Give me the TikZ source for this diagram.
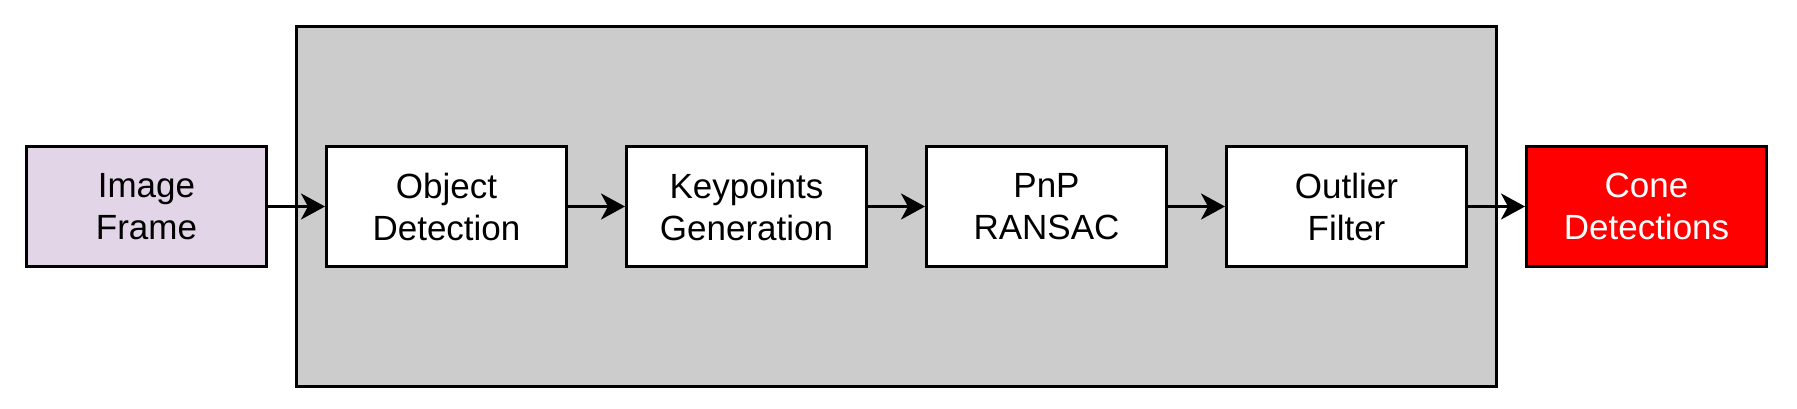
\documentclass[tikz,border=0pt]{standalone}
\usepackage{fontspec}
\setmainfont{Liberation Sans}
\usetikzlibrary{arrows.meta}
\definecolor{lilac}{HTML}{E1D5E7}
\definecolor{panel}{HTML}{CCCCCC}
\definecolor{conered}{HTML}{FF0000}
\begin{document}
\begin{tikzpicture}[x=1pt,y=-1pt,
  stagebox/.style={draw=black,line width=3pt,fill=white,minimum width=240pt,minimum height=120pt,inner sep=0pt,align=center,font=\fontsize{35pt}{42pt}\selectfont},
  flow/.style={line width=3pt,-{Stealth[length=24pt,width=26pt,inset=7pt]}}]
\useasboundingbox (0,0) rectangle (1797,409);
\node[draw=black,line width=3pt,fill=panel,minimum width=1200pt,minimum height=360pt,inner sep=0pt] (panel) at (896.5,206.5) {};
\node[stagebox,fill=lilac] (img) at (146.5,206.5) {Image\\Frame};
\node[stagebox] (obj) at (446.5,206.5) {Object\\Detection};
\node[stagebox] (kp) at (746.5,206.5) {Keypoints\\Generation};
\node[stagebox] (pnp) at (1046.5,206.5) {PnP\\RANSAC};
\node[stagebox] (out) at (1346.5,206.5) {Outlier\\Filter};
\node[stagebox,fill=conered,text=white] (cone) at (1646.5,206.5) {Cone\\Detections};
\draw[flow] (img) -- (obj);
\draw[flow] (obj) -- (kp);
\draw[flow] (kp) -- (pnp);
\draw[flow] (pnp) -- (out);
\draw[flow] (out) -- (cone);
\end{tikzpicture}
\end{document}
